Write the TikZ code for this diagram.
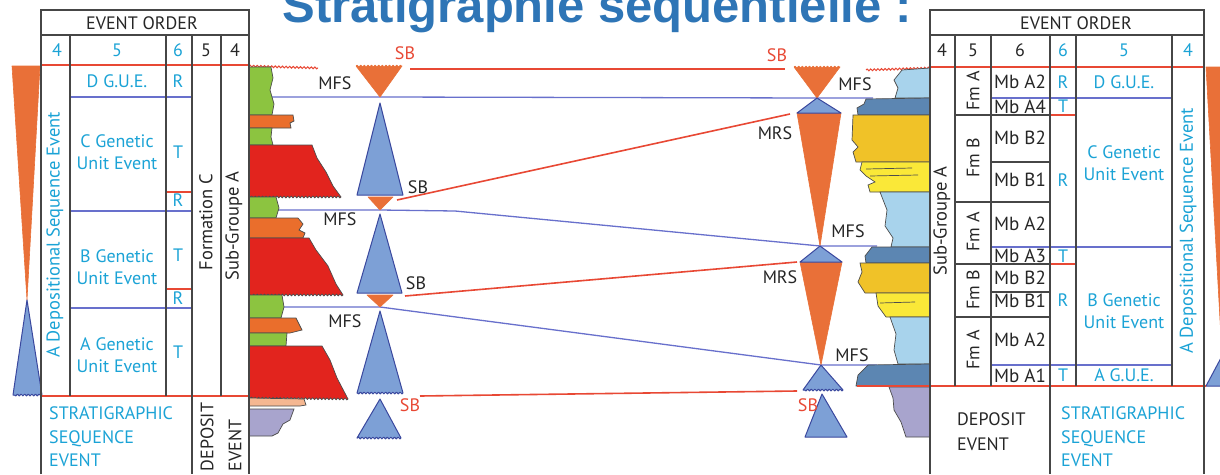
\documentclass[tikz,border=0pt]{standalone}
\usepackage{fontspec}
\setmainfont{PT Sans}
\newfontfamily\titlefont{Liberation Sans}
\usetikzlibrary{decorations.pathmorphing}

\definecolor{titleblue}{RGB}{46,117,182}
\definecolor{sbred}{RGB}{232,72,52}
\definecolor{mfsblue}{RGB}{104,112,204}
\definecolor{evcyan}{RGB}{27,163,214}
\definecolor{gridgrey}{RGB}{70,70,70}
\definecolor{triorange}{RGB}{233,112,56}
\definecolor{trifill}{RGB}{125,160,214}
\definecolor{triedge}{RGB}{58,72,158}
\definecolor{lithgreen}{RGB}{140,196,64}
\definecolor{lithred}{RGB}{226,36,30}
\definecolor{lithorange}{RGB}{234,110,44}
\definecolor{lithpeach}{RGB}{245,183,145}
\definecolor{lithlilac}{RGB}{168,164,205}
\definecolor{lithpale}{RGB}{168,211,236}
\definecolor{lithsteel}{RGB}{92,134,178}
\definecolor{lithgold}{RGB}{240,194,40}
\definecolor{lithyellow}{RGB}{250,232,56}

\begin{document}
\begin{tikzpicture}[x=1pt, y=-1pt,
        lab/.style={inner sep=0pt, font=\fontsize{18}{22}\selectfont},
        evtxt/.style={lab, text=evcyan},
        blktxt/.style={lab, text=black!85},
        sbtxt/.style={lab, text=sbred},
        mbtxt/.style={lab, text=black!85, font=\fontsize{19}{22}\selectfont},
        grid/.style={draw=gridgrey, line width=1.5pt},
        sbline/.style={draw=sbred, line width=1.6pt},
        mfsline/.style={draw=mfsblue, line width=1.3pt},
        regr/.style={fill=triorange, draw=triorange, line width=0.6pt, line join=round},
        transg/.style={fill=trifill, draw=triedge, line width=1pt, line join=round},
        wavy/.style={decoration={snake, amplitude=0.9pt, segment length=3.6pt}},
        bed/.style={draw=black!70, line width=0.7pt}
    ]
    \clip (0,0) rectangle (1220,474);
    \fill[white] (0,0) rectangle (1220,474);

    \node[anchor=base, inner sep=0pt, text=titleblue,
        font=\titlefont\bfseries\fontsize{49}{50}\selectfont] (title) at (597,22) {Stratigraphie séquentielle :};

    % surfaces: maximum flooding (blue) and sequence boundaries (red)
    \coordinate (lwA) at (249,97);   \coordinate (lmfsA) at (380,97);
    \coordinate (lwB) at (249,210);  \coordinate (lmfsB) at (380,210);  \coordinate (lbendB) at (455,211);
    \coordinate (lwC) at (249,307);  \coordinate (lmfsC) at (380,307);
    \coordinate (rmfsA) at (817,98);  \coordinate (reA) at (873,98);
    \coordinate (rmfsB) at (820,246); \coordinate (reB) at (877,246);
    \coordinate (rmfsC) at (821,365); \coordinate (reC) at (877,365);
    \draw[mfsline] (lwA) -- (lmfsA) -- (rmfsA) -- (reA);
    \draw[mfsline] (lwB) -- (lmfsB) -- (lbendB) -- (rmfsB) -- (reB);
    \draw[mfsline] (lwC) -- (lmfsC) -- (rmfsC) -- (reC);

    \coordinate (lsbA) at (410,69);  \coordinate (rsbA) at (785,69);
    \coordinate (lsbB) at (397,200); \coordinate (rmrsB) at (790,114);
    \coordinate (lsbC) at (405,296); \coordinate (rmrsC) at (797,262);
    \coordinate (lsbD) at (420,396); \coordinate (rsbD) at (797,391);
    \draw[sbline] (lsbA) -- (rsbA);
    \draw[sbline] (lsbB) -- (rmrsB);
    \draw[sbline] (lsbC) -- (rmrsC);
    \draw[sbline] (lsbD) -- (rsbD);

    % left lithology column
    \draw[sbred, line width=1pt, decorate, wavy] (249,66) -- (318,68);
    \draw[bed, fill=lithgreen] (249,67) -- (271,67) -- (273,78) -- (270,90) -- (274,104) -- (272,115) -- (249,115) -- cycle;
    \draw[bed, fill=lithorange] (249,115) -- (293,115) -- (294,121) -- (290,123) -- (291,128) -- (249,128) -- cycle;
    \draw[bed, fill=lithgreen] (249,128) -- (272,128) -- (271,137) -- (273,145) -- (249,145) -- cycle;
    \draw[bed, fill=lithred] (249,145) -- (312,145) -- (317,158) -- (326,172) -- (333,186) -- (341,197) decorate[wavy]{-- (249,197)} -- cycle;
    \draw[bed, fill=lithgreen] (249,197) -- (276,197) -- (279,208) -- (276,218) -- (249,218) -- cycle;
    \draw[bed, fill=lithorange] (249,218) -- (298,218) -- (303,224) -- (299,230) -- (305,233) -- (303,238) -- (249,238) -- cycle;
    \draw[bed, fill=lithred] (249,238) -- (309,238) -- (316,250) -- (328,266) -- (336,284) -- (343,295) decorate[wavy]{-- (249,295)} -- cycle;
    \draw[bed, fill=lithgreen] (249,295) -- (282,295) -- (284,307) -- (281,318) -- (249,318) -- cycle;
    \draw[bed, fill=lithorange] (249,318) -- (296,318) -- (299,324) -- (302,330) -- (290,333) -- (249,333) -- cycle;
    \draw[bed, fill=lithgreen] (249,333) -- (287,333) -- (286,346) -- (249,346) -- cycle;
    \draw[bed, fill=lithred] (249,346) -- (322,346) -- (330,360) -- (337,378) -- (348,399) decorate[wavy]{-- (249,398)} -- cycle;
    \draw[bed, fill=lithpeach] (249,398) -- (304,399) -- (306,405) -- (300,406) -- (249,406) -- cycle;
    \draw[bed, fill=lithlilac] (249,409) -- (294,409) -- (290,420) -- (283,424) -- (278,433) -- (272,436) -- (249,436) -- cycle;

    % right lithology column
    \draw[sbred, line width=1pt, decorate, wavy] (866,70) -- (930,68);
    \draw[bed, fill=lithpale] (902,70) -- (930,68) -- (930,98) -- (895,98) -- (898,88) -- (894,80) -- cycle;
    \draw[bed, fill=lithsteel] (866,99) -- (930,98) -- (930,115) -- (858,115) -- (857,108) -- (864,104) -- cycle;
    \draw[bed, fill=lithgold] (853,115) -- (930,115) -- (930,162) -- (856,162) -- (853,152) -- (858,147) -- (852,140) -- cycle;
    \draw[bed, fill=lithyellow] (862,162) -- (930,162) -- (930,192) -- (870,192) -- (868,185) -- (875,182) -- (866,176) -- (860,170) -- cycle;
    \draw[bed] (866,169) -- (912,168) (870,176) -- (918,175);
    \draw[bed, fill=lithpale] (880,192) -- (930,192) -- (930,247) -- (891,247) -- (893,238) -- (885,226) -- (887,210) -- cycle;
    \draw[bed, fill=lithsteel] (872,247) -- (930,247) -- (930,263) -- (866,263) -- (865,256) -- cycle;
    \draw[bed, fill=lithgold] (860,263) -- (930,263) -- (930,293) -- (865,293) -- (858,282) -- (862,272) -- cycle;
    \draw[bed, fill=lithyellow] (876,293) -- (930,293) -- (930,317) -- (886,317) -- (878,306) -- cycle;
    \draw[bed] (880,303) -- (915,302);
    \draw[bed, fill=lithpale] (890,317) -- (930,317) -- (930,364) -- (898,364) -- (894,350) -- (896,334) -- cycle;
    \draw[bed, fill=lithsteel] (868,365) -- (930,364) -- (930,386) -- (856,386) -- (858,375) -- cycle;
    \draw[bed, fill=lithlilac] (889,387) -- (930,387) -- (930,437) -- (906,437) -- (901,422) -- (894,410) -- (893,398) -- cycle;
    \draw[sbline, line width=1.3pt] (857,386) -- (930,386);

    % sequence triangles, left
    \draw[regr] (lmfsA) -- (356,66) decorate[wavy]{-- (402,66)} -- cycle;
    \draw[transg] (380,103) -- (403,195) -- (357,195) -- cycle;
    \draw[regr] (368,197) -- (393,197) -- (lmfsB) -- cycle;
    \draw[transg] (380,214) -- (402,293) -- (357,293) -- cycle;
    \draw[regr] (367,295) -- (393,295) -- (lmfsC) -- cycle;
    \draw[transg] (380,311) -- (403,393) decorate[wavy]{-- (357,393)} -- cycle;
    \draw[transg] (380,399) -- (401,438) decorate[wavy]{-- (357,438)} -- cycle;

    % sequence triangles, right
    \draw[regr] (rmfsA) -- (794,67) decorate[wavy]{-- (840,67)} -- cycle;
    \draw[regr] (797,113) -- (841,113) -- (rmfsB) -- cycle;
    \draw[transg] (rmfsA) -- (841,113) -- (797,113) -- cycle;
    \draw[regr] (800,262) -- (842,262) -- (rmfsC) -- cycle;
    \draw[transg] (rmfsB) -- (842,262) -- (800,262) -- cycle;
    \draw[transg] (rmfsC) -- (843,390) decorate[wavy]{-- (803,390)} -- cycle;
    \draw[transg] (822,394) -- (847,437) -- (805,437) -- cycle;

    \node[sbtxt] (sbL1) at (405,53) {SB};
    \node[blktxt] (mfsL1) at (335,83) {MFS};
    \node[blktxt] (sbL2) at (418,187) {SB};
    \node[blktxt] (mfsL2) at (340,219) {MFS};
    \node[blktxt] (sbL3) at (416,283) {SB};
    \node[blktxt] (mfsL3) at (345,321) {MFS};
    \node[sbtxt] (sbL4) at (410,405) {SB};
    \node[sbtxt] (sbR1) at (777,55) {SB};
    \node[blktxt] (mfsR1) at (855,84) {MFS};
    \node[blktxt] (mrsR1) at (775,133) {MRS};
    \node[blktxt] (mfsR2) at (848,231) {MFS};
    \node[blktxt] (mrsR2) at (780,277) {MRS};
    \node[blktxt] (mfsR3) at (852,355) {MFS};
    \node[sbtxt] (sbR4) at (808,405) {SB};

    % cycles at the outer edges
    \draw[regr] (12,66) -- (40,66) -- (27,300) -- cycle;
    \draw[transg] (27,300) -- (42,395) decorate[wavy]{-- (13,395)} -- cycle;
    \draw[regr] (1206,67) -- (1238,67) -- (1222,356) -- cycle;
    \draw[transg] (1222,356) -- (1238,386) -- (1206,386) -- cycle;

    % left event table
    \draw[sbline, line width=1.3pt] (41,65) -- (249,65);
    \draw[sbline, line width=1.3pt] (41,396) -- (249,396);
    \draw[mfsline] (70,97) -- (192,97) (70,211) -- (192,211) (70,308) -- (192,308);
    \draw[sbline, line width=1.3pt] (166,192) -- (192,192) (166,289) -- (192,289);
    \draw[grid] (41,474) -- (41,10) -- (249,10) -- (249,474);
    \draw[grid] (41,35) -- (249,35);
    \draw[grid] (70,35) -- (70,396) (166,35) -- (166,396) (221,35) -- (221,396);
    \draw[grid] (192,35) -- (192,474);

    \node[blktxt] (lorder) at (142,23) {EVENT ORDER};
    \foreach \x/\t/\s [count=\i] in {57/4/evtxt, 117/5/evtxt, 178/6/evtxt, 206/5/blktxt, 235/4/blktxt}
        \node[\s] (lnum\i) at (\x,50) {\t};
    \node[evtxt] (ldgue) at (117,81) {D G.U.E.};
    \node[evtxt] (lr1) at (178,81) {R};
    \node[evtxt, align=center] (lcgue) at (117,152) {C Genetic\\Unit Event};
    \node[evtxt] (lt1) at (178,152) {T};
    \node[evtxt] (lr2) at (178,200) {R};
    \node[evtxt, align=center] (lbgue) at (117,267) {B Genetic\\Unit Event};
    \node[evtxt] (lt2) at (178,255) {T};
    \node[evtxt] (lr3) at (178,298) {R};
    \node[evtxt, align=center] (lague) at (117,355) {A Genetic\\Unit Event};
    \node[evtxt] (lt3) at (178,352) {T};
    \node[evtxt, rotate=90, font=\fontsize{18.5}{22}\selectfont] (ldse) at (55,235) {A Depositional Sequence Event};
    \node[blktxt, rotate=90, font=\fontsize{18.5}{22}\selectfont] (lform) at (206,222) {Formation C};
    \node[blktxt, rotate=90, font=\fontsize{18.5}{22}\selectfont] (lsubgr) at (234,226) {Sub-Groupe A};
    \node[evtxt, align=left, anchor=west, font=\fontsize{18}{23.5}\selectfont] (lstrat) at (49,437) {STRATIGRAPHIC\\SEQUENCE\\EVENT};
    \node[blktxt, rotate=90, align=left, font=\fontsize{18}{28}\selectfont] (ldeposit) at (221,437) {DEPOSIT\\EVENT};

    % right event table
    \draw[sbline, line width=1.3pt] (930,67) -- (1204,67);
    \draw[sbline, line width=1.3pt] (930,386) -- (1206,386);
    \draw[mfsline] (991,98) -- (1172,98) (991,247) -- (1172,247) (991,365) -- (1172,365);
    \draw[sbline, line width=1.3pt] (1050,115) -- (1076,115) (1050,264) -- (1076,264);
    \draw[grid] (930,474) -- (930,10) -- (1204,10) -- (1204,474);
    \draw[grid] (930,35) -- (1204,35);
    \draw[grid] (955,35) -- (955,386) (991,35) -- (991,386) (1076,35) -- (1076,386) (1172,35) -- (1172,386);
    \draw[grid] (1050,35) -- (1050,474);
    \draw[grid] (955,115) -- (1050,115) (991,162) -- (1050,162) (955,202) -- (1050,202)
        (955,264) -- (1050,264) (991,292) -- (1050,292) (955,317) -- (1050,317);

    \node[blktxt] (rorder) at (1076,23) {EVENT ORDER};
    \foreach \x/\t/\s [count=\i] in {942/4/blktxt, 973/5/blktxt, 1020/6/blktxt, 1063/6/evtxt, 1124/5/evtxt, 1188/4/evtxt}
        \node[\s] (rnum\i) at (\x,50) {\t};
    \node[blktxt, rotate=90, font=\fontsize{18.5}{22}\selectfont] (rsubgr) at (942,221) {Sub-Groupe A};
    \foreach \y/\t [count=\i] in {91/Fm A, 158/Fm B, 232/Fm A, 290/Fm B, 350/Fm A}
        \node[blktxt, rotate=90] (rfm\i) at (973,\y) {\t};
    \foreach \y/\t [count=\i] in {82/Mb A2, 107/Mb A4, 138/Mb B2, 180/Mb B1, 224/Mb A2,
            256/Mb A3, 278/Mb B2, 301/Mb B1, 340/Mb A2, 376/Mb A1}
        \node[mbtxt] (rmb\i) at (1020,\y) {\t};
    \foreach \y/\t [count=\i] in {82/R, 106/T, 180/R, 256/T, 300/R, 375/T}
        \node[evtxt] (rrt\i) at (1063,\y) {\t};
    \node[evtxt] (rdgue) at (1124,82) {D G.U.E.};
    \node[evtxt, align=center] (rcgue) at (1124,163) {C Genetic\\Unit Event};
    \node[evtxt, align=center] (rbgue) at (1124,311) {B Genetic\\Unit Event};
    \node[evtxt] (rague) at (1124,375) {A G.U.E.};
    \node[evtxt, rotate=90, font=\fontsize{18.5}{22}\selectfont] (rdse) at (1188,231) {A Depositional Sequence Event};
    \node[blktxt, align=left, anchor=west, font=\fontsize{18}{25}\selectfont] (rdeposit) at (957,432) {DEPOSIT\\EVENT};
    \node[evtxt, align=left, anchor=west, font=\fontsize{18}{23.5}\selectfont] (rstrat) at (1061,437) {STRATIGRAPHIC\\SEQUENCE\\EVENT};

\end{tikzpicture}
\end{document}
